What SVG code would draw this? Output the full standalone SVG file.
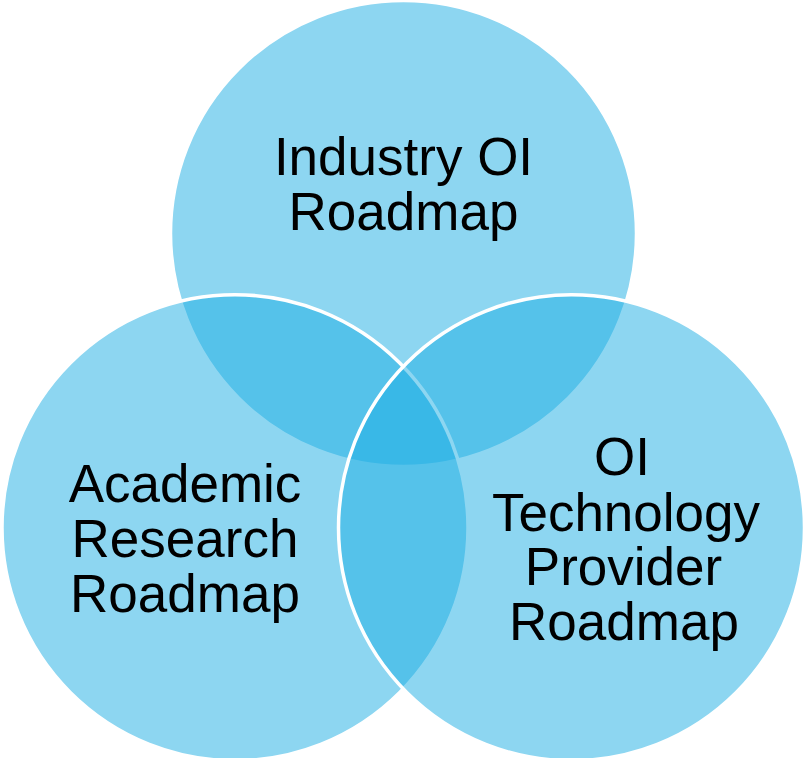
<svg xmlns="http://www.w3.org/2000/svg" width="805" height="758" viewBox="0 0 805 758">
  <style>
    .c { fill: #1FAFE4; fill-opacity: 0.51; stroke: #FFFFFF; stroke-width: 3.5; }
    .t { font-family: "Liberation Sans", Arial, sans-serif; font-size: 53px; fill: #000000; text-anchor: middle; }
  </style>
  <rect width="805" height="758" fill="#FFFFFF"/>
  <g id="industry">
    <circle class="c" cx="403.5" cy="233.5" r="233"/>
  </g>
  <g id="academic">
    <circle class="c" cx="235" cy="527.7" r="233"/>
  </g>
  <g id="provider">
    <circle class="c" cx="571.5" cy="527.7" r="233"/>
  </g>
  <g id="labels">
    <text class="t"><tspan x="403.5" y="175">Industry OI</tspan><tspan x="403.5" y="230">Roadmap</tspan></text>
    <text class="t"><tspan x="185" y="501.7">Academic</tspan><tspan x="185" y="556.7">Research</tspan><tspan x="185" y="611.7">Roadmap</tspan></text>
    <text class="t"><tspan x="622" y="475">OI</tspan><tspan x="626" y="530.5">Technology</tspan><tspan x="623.5" y="585">Provider</tspan><tspan x="624" y="640">Roadmap</tspan></text>
  </g>
  <g id="connectors"/>
</svg>
